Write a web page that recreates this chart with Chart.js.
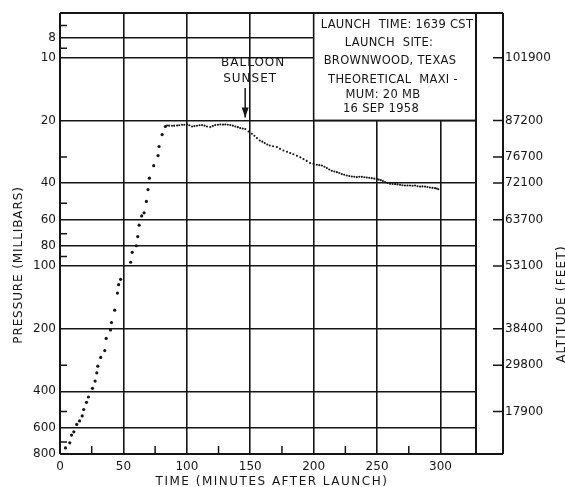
<!DOCTYPE html>
<html>
<head>
<meta charset="utf-8">
<script src="https://cdn.jsdelivr.net/npm/chart.js@4.4.1/dist/chart.umd.min.js"></script>
<style>
  html, body { margin: 0; padding: 0; background: #fff; }
  #wrap { width: 565px; height: 487px; position: relative; }
</style>
</head>
<body>
<div id="wrap"><canvas id="c" width="565" height="487"></canvas></div>
<script>
// ---- Data ----
const minutes = [
  4.3, 7.7, 9.1, 10.9, 13.2, 15.4, 17.5, 18.7, 20.9, 22.4,
  25.6, 27.7, 29.0, 29.8, 32.1, 35.3, 36.4, 39.8, 40.6, 43.1,
  45.3, 46.2, 47.8, 55.7, 56.9, 60.2, 61.3, 62.4, 64.4, 66.3,
  68.1, 69.4, 70.5, 73.9, 77.3, 78.1, 80.5, 83.1,
  84.4, 86.0, 88.3, 90.0, 92.3, 94.0, 96.2, 98.0, 100.2, 102.0,
  104.1, 106.0, 108.0, 110.0, 112.0, 114.0, 115.9, 118.5, 120.5, 122.4,
  124.5, 126.4, 128.5, 130.3, 132.3, 134.3, 136.3, 138.2, 140.2, 142.1,
  144.1, 146.1, 148.7, 151.3, 153.3, 155.3, 157.5, 159.5, 161.4, 163.4,
  165.4, 168.0, 171.0, 173.5, 176.2, 179.0, 181.5, 184.0, 186.8, 189.5,
  192.0, 194.5, 197.2, 199.8, 202.5, 204.5, 206.5, 208.5, 210.4, 212.3,
  214.3, 216.3, 218.3, 220.2, 222.2, 224.1, 226.1, 228.1, 230.1, 232.0,
  234.0, 236.0, 238.0, 240.0, 241.9, 243.8, 245.8, 247.8, 249.8, 251.3,
  252.9, 254.6, 256.3, 258.2, 260.2, 262.2, 264.2, 266.1, 268.1, 270.0,
  272.0, 274.0, 276.0, 278.0, 279.9, 281.9, 283.9, 285.8, 287.8, 289.7,
  291.7, 293.7, 295.7, 297.0, 298.3
];
const pressureMb = [
  748, 707, 649, 626, 577, 555, 525, 489, 452, 426,
  387, 357, 326, 303, 275, 255, 223, 203, 187, 163,
  135, 123, 116, 96, 86, 80, 72.3, 63.7, 57.5, 55.6,
  49, 43, 37.9, 33, 29.5, 26.7, 23.4, 21.4,
  21.16, 21.2, 21.23, 21.2, 21.16, 21.1, 21.0, 21.0, 20.93, 21.1,
  21.39, 21.3, 21.23, 21.1, 21.07, 21.2, 21.39, 21.54, 21.3, 21.07,
  21.0, 20.93, 20.95, 20.93, 21.0, 21.07, 21.2, 21.39, 21.55, 21.78,
  21.9, 22.02, 22.61, 23.2, 23.7, 24.33, 24.98, 25.3, 25.71, 26.1,
  26.4, 26.6, 26.87, 27.4, 27.9, 28.3, 28.72, 29.1, 29.6, 30.1,
  30.69, 31.3, 32.08, 32.4, 32.69, 32.8, 32.94, 33.4, 33.9, 34.4,
  34.94, 35.2, 35.44, 35.8, 36.23, 36.5, 36.8, 37.0, 37.21, 37.3,
  37.46, 37.3, 37.34, 37.5, 37.63, 37.7, 37.88, 38.1, 38.3, 38.5,
  38.73, 39.1, 39.59, 40.0, 40.35, 40.4, 40.48, 40.6, 40.8, 41.0,
  41.11, 41.1, 41.11, 41.2, 41.11, 41.4, 41.58, 41.5, 41.58, 41.8,
  42.04, 42.2, 42.32, 42.5, 42.8
];
const timeTicks = [0, 50, 100, 150, 200, 250, 300];
const minorTimeTicks = [25, 75, 125, 175, 225, 275];
const pressureTicks = [8, 10, 20, 40, 60, 80, 100, 200, 400, 600, 800];
const minorPressureTicks = [7, 9, 30, 50, 70, 90, 300, 500, 700];
const altitudePressures = [10, 20, 30, 40, 60, 100, 200, 300, 500];
const altitudeLabels = ['101900', '87200', '76700', '72100', '63700', '53100', '38400', '29800', '17900'];
const boxLines = ['LAUNCH  TIME: 1639 CST', 'LAUNCH  SITE:', 'BROWNWOOD, TEXAS', 'THEORETICAL  MAXI -', 'MUM: 20 MB', '16 SEP 1958'];
const sunsetMinute = 146;

const INK = '#151515';
const FONT = 'DejaVu Sans';

const points = minutes.map((m, i) => ({ x: m, y: pressureMb[i] }));

function fixScale(size, horizontal) {
  return function (s) {
    if (horizontal) s.height = size; else s.width = size;
    s.paddingTop = 0; s.paddingBottom = 0; s.paddingLeft = 0; s.paddingRight = 0;
  };
}

const decor = {
  id: 'decor',
  beforeDatasetsDraw(chart) {
    const { ctx, chartArea: ca, scales } = chart;
    const x = scales.x, y = scales.y, y2 = scales.y2;
    ctx.save();
    // text box covering upper right
    const bx0 = x.getPixelForValue(200), bx1 = ca.right;
    const by0 = ca.top, by1 = y.getPixelForValue(20);
    ctx.fillStyle = '#fff';
    ctx.fillRect(bx0, by0, bx1 - bx0, by1 - by0);
    ctx.strokeStyle = INK;
    ctx.lineWidth = 1.6;
    ctx.strokeRect(bx0, by0, bx1 - bx0, by1 - by0);

    // minor ticks on left axis
    ctx.lineWidth = 1.5;
    ctx.beginPath();
    minorPressureTicks.forEach(p => {
      const py = y.getPixelForValue(p);
      ctx.moveTo(ca.left, py); ctx.lineTo(ca.left + 7, py);
    });
    // minor ticks on bottom axis
    minorTimeTicks.forEach(t => {
      const px = x.getPixelForValue(t);
      ctx.moveTo(px, ca.bottom); ctx.lineTo(px, ca.bottom - 8);
    });
    ctx.stroke();

    // outer frame incl. right extension for altitude axis
    const axX = ca.right + 27;
    ctx.lineWidth = 2;
    ctx.beginPath();
    ctx.moveTo(ca.left, ca.top); ctx.lineTo(axX, ca.top);
    ctx.moveTo(ca.left, ca.bottom); ctx.lineTo(axX, ca.bottom);
    ctx.moveTo(ca.left, ca.top); ctx.lineTo(ca.left, ca.bottom);
    ctx.moveTo(ca.right, ca.top); ctx.lineTo(ca.right, ca.bottom);
    ctx.moveTo(axX, ca.top); ctx.lineTo(axX, ca.bottom);
    ctx.stroke();
    // altitude ticks
    ctx.lineWidth = 1.5;
    ctx.beginPath();
    altitudePressures.forEach(p => {
      const py = y2.getPixelForValue(p);
      ctx.moveTo(axX - 10, py); ctx.lineTo(axX, py);
    });
    ctx.stroke();

    // box text
    ctx.fillStyle = INK;
    ctx.textAlign = 'center';
    ctx.textBaseline = 'middle';
    ctx.font = '11.5px "' + FONT + '"';
    ctx.letterSpacing = '0.3px';
    const cx = [397, 389, 390, 393, 383, 381];
    const cy = [25, 43, 61, 80, 95, 109];
    boxLines.forEach((t, i) => ctx.fillText(t, cx[i], cy[i]));

    // balloon sunset annotation
    const sx = x.getPixelForValue(sunsetMinute);
    ctx.font = '12px "' + FONT + '"';
    ctx.letterSpacing = '1px';
    ctx.fillText('BALLOON', sx + 8, 63);
    ctx.fillText('SUNSET', sx + 5, 79);
    const tipY = y.getPixelForValue(20) - 3;
    ctx.lineWidth = 1.5;
    ctx.beginPath();
    ctx.moveTo(sx, 88); ctx.lineTo(sx, tipY);
    ctx.stroke();
    ctx.beginPath();
    ctx.moveTo(sx - 3.5, tipY - 10); ctx.lineTo(sx + 3.5, tipY - 10); ctx.lineTo(sx, tipY);
    ctx.closePath(); ctx.fill();
    ctx.restore();
  },
  afterDraw(chart) {
    const { ctx, chartArea: ca } = chart;
    ctx.save();
    ctx.fillStyle = INK;
    ctx.textAlign = 'center';
    ctx.textBaseline = 'middle';
    ctx.font = '12px "' + FONT + '"';
    ctx.letterSpacing = '1.5px';
    ctx.fillText('TIME (MINUTES AFTER LAUNCH)', 272, 482);
    ctx.letterSpacing = '0.9px';
    ctx.save();
    ctx.translate(19, 265); ctx.rotate(-Math.PI / 2);
    ctx.fillText('PRESSURE (MILLIBARS)', 0, 0);
    ctx.restore();
    ctx.letterSpacing = '1.2px';
    ctx.save();
    ctx.translate(562, 304); ctx.rotate(-Math.PI / 2);
    ctx.fillText('ALTITUDE (FEET)', 0, 0);
    ctx.restore();
    ctx.restore();
  }
};

new Chart(document.getElementById('c'), {
  type: 'scatter',
  data: {
    datasets: [{
      label: 'Pressure',
      data: points,
      yAxisID: 'y',
      backgroundColor: INK,
      borderWidth: 0,
      pointRadius: ctx => (ctx.raw && ctx.raw.x < 83.5 ? 1.6 : 1.05),
      pointHoverRadius: 0
    }]
  },
  options: {
    responsive: false,
    animation: false,
    devicePixelRatio: 1,
    layout: { padding: { top: 13, left: 0, right: 0, bottom: 0 } },
    plugins: { legend: { display: false }, tooltip: { enabled: false } },
    scales: {
      x: {
        type: 'linear', min: 0, max: 328,
        afterBuildTicks: s => { s.ticks = timeTicks.map(v => ({ value: v })); },
        afterFit: fixScale(33, true),
        grid: { color: INK, lineWidth: 1.6, drawTicks: false },
        border: { display: false },
        ticks: { color: INK, font: { family: FONT, size: 12 }, padding: 6, maxRotation: 0, autoSkip: false,
                 callback: v => String(v) }
      },
      y: {
        type: 'logarithmic', reverse: true, min: 6.1, max: 800, position: 'left',
        afterBuildTicks: s => { s.ticks = pressureTicks.map(v => ({ value: v })); },
        afterFit: fixScale(60, false),
        grid: { color: INK, lineWidth: 1.6, drawTicks: false },
        border: { display: false },
        ticks: { color: INK, font: { family: FONT, size: 12 }, padding: 4, autoSkip: false,
                 callback: v => String(v) }
      },
      y2: {
        type: 'logarithmic', reverse: true, min: 6.1, max: 800, position: 'right',
        afterBuildTicks: s => { s.ticks = altitudePressures.map(v => ({ value: v })); },
        afterFit: fixScale(89, false),
        grid: { display: false, drawTicks: false },
        border: { display: false },
        ticks: { color: INK, font: { family: FONT, size: 12 }, padding: 29, autoSkip: false,
                 callback: v => { const i = altitudePressures.indexOf(v); return i >= 0 ? altitudeLabels[i] : ''; } }
      }
    }
  },
  plugins: [decor]
});
</script>
</body>
</html>
